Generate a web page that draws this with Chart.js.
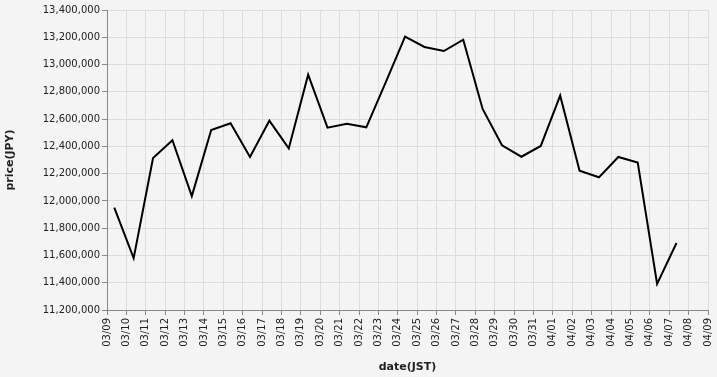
<!DOCTYPE html>
<html>
<head>
<meta charset="utf-8">
<script src="https://cdn.jsdelivr.net/npm/chart.js@4"></script>
<style>
  html, body { margin: 0; padding: 0; background: #f4f4f4; }
  canvas { display: block; }
</style>
</head>
<body>
<canvas id="chart" width="717" height="377"></canvas>
<script>
// daily price snapshots (JST, taken around 09:00)
const days = ["03/09", "03/10", "03/11", "03/12", "03/13", "03/14", "03/15", "03/16", "03/17", "03/18",
  "03/19", "03/20", "03/21", "03/22", "03/23", "03/24", "03/25", "03/26", "03/27", "03/28",
  "03/29", "03/30", "03/31", "04/01", "04/02", "04/03", "04/04", "04/05", "04/06", "04/07"];
const sampleHour = 9;
const prices = [11950000, 11580000, 12315000, 12445000, 12035000, 12520000, 12570000, 12322000, 12588000, 12385000,
  12926000, 12537000, 12566000, 12540000, 12870000, 13204000, 13129000, 13099000, 13182000, 12674000,
  12408000, 12324000, 12403000, 12772000, 12222000, 12173000, 12322000, 12281000, 11391000, 11691000];

// x axis tick labels (midnight of each day)
const tickLabels = ["03/09", "03/10", "03/11", "03/12", "03/13", "03/14", "03/15", "03/16", "03/17", "03/18",
  "03/19", "03/20", "03/21", "03/22", "03/23", "03/24", "03/25", "03/26", "03/27", "03/28",
  "03/29", "03/30", "03/31", "04/01", "04/02", "04/03", "04/04", "04/05", "04/06", "04/07",
  "04/08", "04/09"];

const yMin = 11200000;
const yMax = 13400000;
const yStep = 200000;

const points = days.map((d, i) => ({
  x: tickLabels.indexOf(d) + sampleHour / 24,
  y: prices[i],
}));

Chart.defaults.font.family = "'DejaVu Sans', sans-serif";
Chart.defaults.color = "#222";

new Chart(document.getElementById("chart"), {
  type: "line",
  data: {
    datasets: [
      {
        data: points,
        borderColor: "#000",
        borderWidth: 2,
        pointRadius: 0,
        tension: 0,
        fill: false,
      },
    ],
  },
  options: {
    responsive: false,
    animation: false,
    layout: { padding: { top: 10, right: 9, bottom: 0, left: 0 } },
    plugins: {
      legend: { display: false },
      tooltip: { enabled: false },
    },
    scales: {
      x: {
        type: "linear",
        min: 0,
        max: tickLabels.length - 1,
        afterFit: (scale) => {
          scale.height = 67;
          scale.paddingLeft = 0;
          scale.paddingRight = 0;
        },
        ticks: {
          stepSize: 1,
          autoSkip: false,
          maxRotation: 90,
          minRotation: 90,
          padding: 3,
          font: { size: 10 },
          callback: (v) => tickLabels[v],
        },
        grid: { color: "#dddddd", tickColor: "#888", tickLength: 5 },
        border: { color: "#888" },
        title: {
          display: true,
          text: "date(JST)",
          font: { size: 11, weight: "bold" },
          padding: { top: 5, bottom: 3 },
        },
      },
      y: {
        min: yMin,
        max: yMax,
        afterFit: (scale) => { scale.width = 107; },
        ticks: {
          stepSize: yStep,
          padding: 2,
          font: { size: 10 },
          callback: (v) => v.toLocaleString("en-US"),
        },
        grid: { color: "#dddddd", tickColor: "#888", tickLength: 5 },
        border: { color: "#888" },
        title: {
          display: true,
          text: "price(JPY)",
          font: { size: 11, weight: "bold" },
          padding: { top: 4, bottom: 0 },
        },
      },
    },
  },
});
</script>
</body>
</html>
